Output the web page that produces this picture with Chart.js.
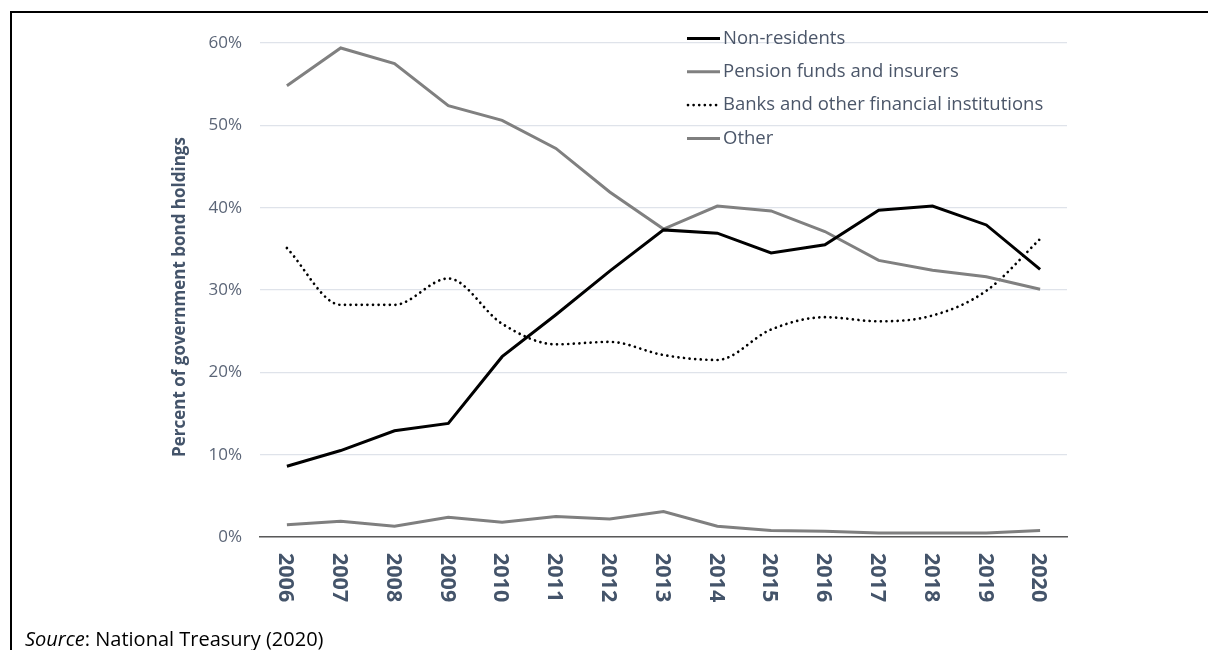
<!DOCTYPE html>
<html>
<head>
<meta charset="utf-8">
<script src="https://cdn.jsdelivr.net/npm/chart.js@4.4.1/dist/chart.umd.min.js"></script>
<style>
html,body{margin:0;padding:0;background:#fff;overflow:hidden;}
#wrap{position:relative;width:1208px;height:650px;overflow:hidden;background:#fff;}
#frame{position:absolute;left:10px;top:11px;width:1198px;height:639px;border-left:2px solid #000;border-top:2px solid #000;box-sizing:border-box;}
#c{position:absolute;left:0;top:0;}
#src{position:absolute;left:25px;top:627px;font-family:"Open Sans",sans-serif;font-size:20px;color:#000;white-space:nowrap;line-height:24px;}
</style>
</head>
<body>
<div id="wrap">
  <div id="frame"></div>
  <canvas id="c" width="1208" height="650"></canvas>
  <div id="src"><i>Source</i>: National Treasury (2020)</div>
</div>
<script>
// ---- data ----
const years = ['2006','2007','2008','2009','2010','2011','2012','2013','2014','2015','2016','2017','2018','2019','2020'];
const nonResidents = [8.6,10.5,12.9,13.8,21.9,27.0,32.3,37.3,36.9,34.5,35.5,39.7,40.2,37.9,32.5];
const pensionFunds = [54.8,59.4,57.5,52.4,50.6,47.2,41.9,37.4,40.2,39.6,37.1,33.6,32.4,31.6,30.1];
const banksOther   = [35.1,28.2,28.2,31.4,25.9,23.4,23.7,22.1,21.5,25.2,26.7,26.2,26.9,29.9,36.2];
const otherHolders = [1.5,1.9,1.3,2.4,1.8,2.5,2.2,3.1,1.3,0.8,0.7,0.5,0.5,0.5,0.8];
const seriesNames = ['Non-residents','Pension funds and insurers','Banks and other financial institutions','Other'];
const yTickValues = [0,10,20,30,40,50,60];
const yAxisTitle = 'Percent of government bond holdings';

const FONT = '"Open Sans", sans-serif';
const TEXT_BLUE = '#44546a';

const customDraw = {
  id: 'customDraw',
  afterDraw(chart) {
    const ctx = chart.ctx;
    const xs = chart.scales.x;
    ctx.save();
    // x tick labels rotated clockwise (read top to bottom)
    ctx.font = 'bold 21.5px ' + FONT;
    ctx.fillStyle = TEXT_BLUE;
    ctx.textAlign = 'left';
    ctx.textBaseline = 'alphabetic';
    chart.data.labels.forEach((lab, i) => {
      const x = xs.getPixelForTick(i);
      ctx.save();
      ctx.translate(x, xs.top + 16);
      ctx.rotate(Math.PI / 2);
      ctx.fillText(lab, 0, 7.7);
      ctx.restore();
    });
    // y axis title
    ctx.save();
    ctx.font = 'bold 17px ' + FONT;
    ctx.fillStyle = TEXT_BLUE;
    ctx.textAlign = 'center';
    ctx.textBaseline = 'alphabetic';
    ctx.translate(185, 297);
    ctx.rotate(-Math.PI / 2);
    ctx.fillText(yAxisTitle, 0, 0);
    ctx.restore();
    // legend inside plot
    ctx.font = '18.5px ' + FONT;
    ctx.textAlign = 'left';
    ctx.textBaseline = 'middle';
    chart.data.datasets.forEach((ds, i) => {
      const y = 38.5 + i * 33.3;
      ctx.save();
      ctx.beginPath();
      ctx.strokeStyle = ds.borderColor;
      ctx.lineWidth = ds.borderWidth;
      ctx.lineCap = ds.borderCapStyle || 'butt';
      ctx.setLineDash(ds.borderDash || []);
      ctx.moveTo(ds.borderDash ? 688 : 687, y);
      ctx.lineTo(720, y);
      ctx.stroke();
      ctx.restore();
      ctx.fillStyle = '#4b5669';
      ctx.fillText(ds.label, 723, y);
    });
    ctx.restore();
  }
};

new Chart(document.getElementById('c'), {
  type: 'line',
  data: {
    labels: years,
    datasets: [
      { label: seriesNames[0], data: nonResidents, borderColor: '#000000', borderWidth: 3, pointRadius: 0, tension: 0 },
      { label: seriesNames[1], data: pensionFunds, borderColor: '#808080', borderWidth: 3, pointRadius: 0, tension: 0 },
      { label: seriesNames[2], data: banksOther, borderColor: '#000000', borderWidth: 2.7, borderDash: [0.01, 5.6], borderCapStyle: 'round', pointRadius: 0, cubicInterpolationMode: 'monotone' },
      { label: seriesNames[3], data: otherHolders, borderColor: '#7f7f7f', borderWidth: 3, pointRadius: 0, tension: 0 }
    ]
  },
  options: {
    responsive: false,
    animation: false,
    layout: { padding: { top: 43, right: 141, bottom: 0, left: 0 } },
    plugins: { legend: { display: false }, tooltip: { enabled: false } },
    scales: {
      x: {
        type: 'category',
        offset: true,
        grid: { display: false },
        border: { display: true, color: '#595959', width: 1.5 },
        ticks: { display: false },
        afterFit(scale) { scale.height = 113; }
      },
      y: {
        min: 0, max: 60,
        afterBuildTicks(scale) { scale.ticks = yTickValues.map(v => ({ value: v })); },
        grid: { color: '#dfe3ea', lineWidth: 1.2, drawTicks: false },
        border: { display: false },
        ticks: {
          padding: 18,
          color: '#5b6577',
          font: { family: FONT, size: 17 },
          callback: v => v + '%'
        },
        afterFit(scale) { scale.width = 260; }
      }
    }
  },
  plugins: [customDraw]
});
</script>
</body>
</html>
